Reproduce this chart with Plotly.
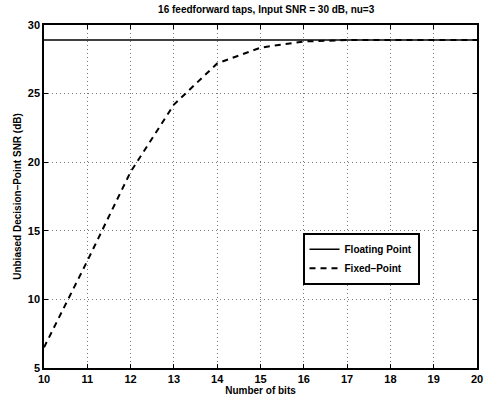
import plotly.graph_objects as go

bits = [10, 11, 12, 13, 14, 15, 16, 17, 18, 19, 20]
fixed_snr = [6.5, 12.8, 19.3, 24.2, 27.2, 28.35, 28.8, 28.9, 28.9, 28.9, 28.9]
float_snr = [28.9] * len(bits)

title = "16 feedforward taps, Input SNR = 30 dB, nu=3"
xlabel = "Number of bits"
ylabel = "Unbiased Decision\u2013Point SNR (dB)"

fig = go.Figure()
fig.add_trace(go.Scatter(x=bits, y=float_snr, mode="lines", name="Floating Point",
                         line=dict(color="black", width=1.5)))
fig.add_trace(go.Scatter(x=bits, y=fixed_snr, mode="lines", name="Fixed\u2013Point",
                         line=dict(color="black", width=2, dash="6px,5px")))

fam = "Liberation Sans, Arial, sans-serif"
font = dict(family=fam, size=11, color="black")
axis_common = dict(showline=True, linecolor="black", linewidth=1.5, mirror="ticks",
                   ticks="inside", ticklen=4, tickcolor="black", tickwidth=1.2,
                   showgrid=True, gridcolor="#777", griddash="1px,3px", gridwidth=1,
                   zeroline=False, ticklabeloverflow="allow",
                   tickfont=dict(family=fam, size=11, color="black", weight="bold"))

fig.update_layout(
    width=484, height=399,
    margin=dict(l=44, r=1, t=25, b=31),
    paper_bgcolor="white", plot_bgcolor="white",
    font=font,
    title=dict(text=title, x=0.55, xanchor="center", y=0.985, yanchor="top",
               font=dict(size=10, family=fam, color="black", weight="bold")),
    xaxis=dict(range=[10, 20], dtick=1,
               title=dict(text=xlabel, standoff=0, font=dict(size=10, weight="bold")),
               **axis_common),
    yaxis=dict(range=[5, 30], dtick=5,
               title=dict(text=ylabel, standoff=4, font=dict(size=10, weight="bold")),
               **axis_common),
    legend=dict(x=0.597, y=0.394, xanchor="left", yanchor="top",
                bgcolor="white", bordercolor="black", borderwidth=2,
                font=dict(size=10, family=fam, color="black", weight="bold"),
                tracegroupgap=0, itemwidth=30),
    showlegend=True,
)

fig.write_html("out.html")
